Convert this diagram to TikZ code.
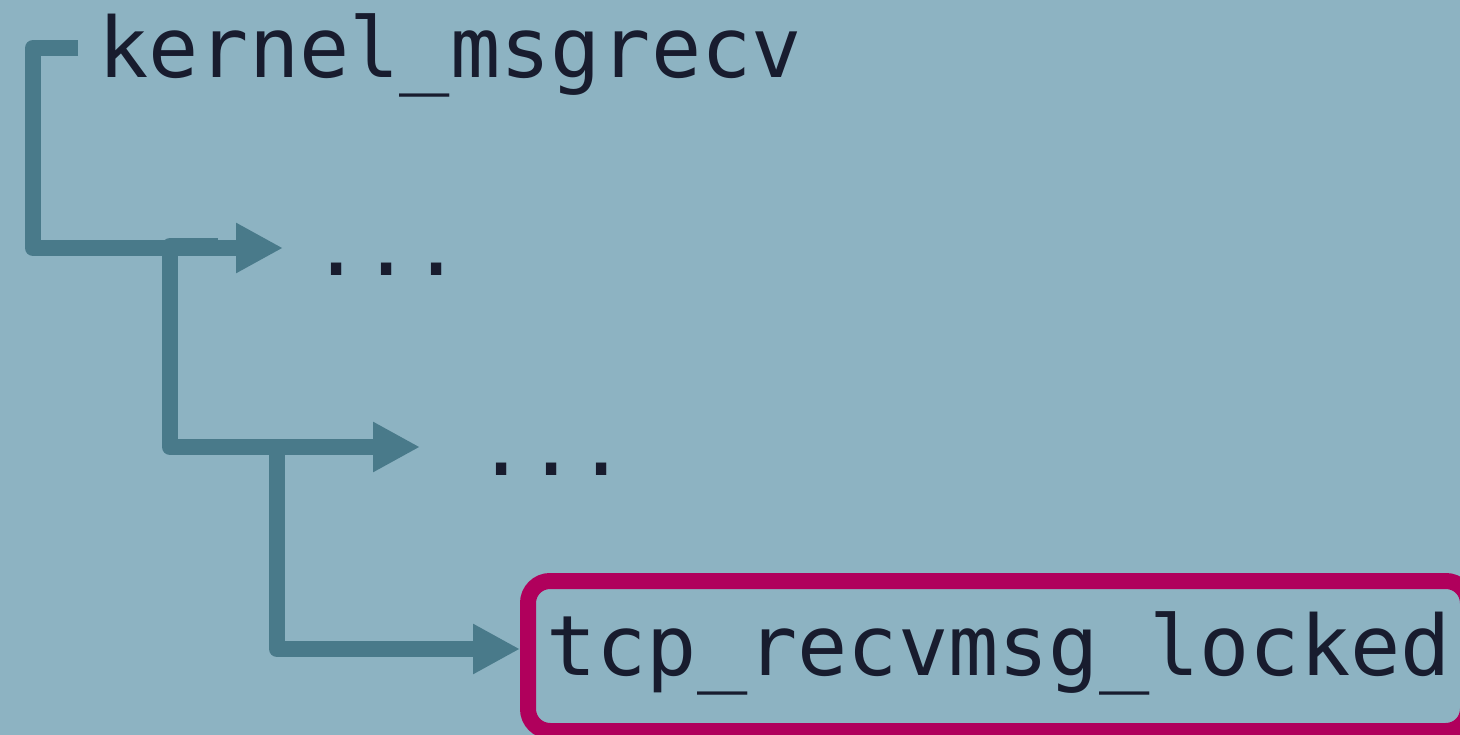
\documentclass[tikz,border=0pt]{standalone}
\usepackage{fontspec}
\newfontfamily\codefont{DejaVu Sans Mono}
\usetikzlibrary{arrows.meta}
\definecolor{bgc}{HTML}{8DB3C2}
\definecolor{linec}{HTML}{497A8A}
\definecolor{textc}{HTML}{181C2E}
\definecolor{hilite}{HTML}{B0005C}
\tikzset{
  lbl/.style={anchor=base west, inner sep=0pt, text=textc, font=\codefont\fontsize{83.5pt}{90pt}\selectfont},
  conn/.style={draw=linec, line width=16pt, line join=round, line cap=butt,
    -{Triangle[length=47pt, width=47pt, fill=linec]}},
  hibox/.style={draw=hilite, line width=16pt, rounded corners=22pt, inner sep=0pt, outer sep=0pt}
}
\begin{document}
\begin{tikzpicture}[x=1pt, y=-1pt]
  \fill[bgc] (0,0) rectangle (1460,735);
  \useasboundingbox (0,0) rectangle (1460,735);
  % nodes
  \node[lbl] (k) at (98,78) {kernel\_msgrecv};
  \node[lbl] (d1) at (311,276) {...};
  \node[lbl] (d2) at (476,475) {...};
  \node[hibox, anchor=north west, minimum width=940pt, minimum height=150pt] (tcpbox) at (528,581) {};
  \node[lbl] (tcp) at (546,675) {tcp\_recvmsg\_locked};
  % connector ends
  \coordinate (s1) at (78,48);
  \coordinate (t1) at (283,248);
  \coordinate (s2) at (218,246);
  \coordinate (t2) at (420,447);
  \coordinate (s3) at (325,447);
  \coordinate (t3) at (520,649);
  % connectors
  \draw[conn] (s1) -- (33,48) |- (t1);
  \draw[conn] (s2) -- (170,246) |- (t2);
  \draw[conn] (s3) -- (277,447) |- (t3);
\end{tikzpicture}
\end{document}
